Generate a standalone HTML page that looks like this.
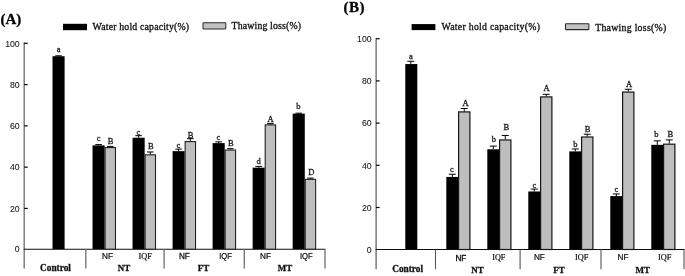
<!DOCTYPE html>
<html lang="en">
<head>
<meta charset="utf-8">
<title>Water hold capacity and thawing loss</title>
<style>
html,body{margin:0;padding:0;background:#fff;}
body{width:685px;height:276px;overflow:hidden;}
svg{display:block;}
svg text{stroke:#111;stroke-width:0.28px;paint-order:stroke fill;}
svg text.tk{stroke-width:0.1px;}
svg text.tk2{stroke-width:0.38px;}
svg text.cl{stroke-width:0.24px;}
svg text.tk3{stroke-width:0.3px;}
svg text.lg{stroke-width:0.32px;}
</style>
</head>
<body>
<svg width="685" height="276" viewBox="0 0 685 276">
<defs><filter id="soft" x="0" y="0" width="685" height="276" filterUnits="userSpaceOnUse"><feGaussianBlur stdDeviation="0.4"/></filter></defs>
<rect width="685" height="276" fill="#fff"/>
<g filter="url(#soft)">
<rect width="685" height="276" fill="#fff"/>
<line x1="24.2" y1="42.3" x2="24.2" y2="268.6" stroke="#757575" stroke-width="1.4"/>
<line x1="23.7" y1="249.2" x2="325.5" y2="249.2" stroke="#111" stroke-width="1.1"/>
<text x="19.7" y="252.4" class="tk" font-family='"Liberation Sans", "DejaVu Sans", sans-serif' font-size="8.7" text-anchor="end" fill="#1a1a1a">0</text>
<line x1="24.2" y1="208.42" x2="27.7" y2="208.42" stroke="#000" stroke-width="1.2"/>
<text x="19.7" y="211.62" class="tk" font-family='"Liberation Sans", "DejaVu Sans", sans-serif' font-size="8.7" text-anchor="end" fill="#1a1a1a">20</text>
<line x1="24.2" y1="167.14" x2="27.7" y2="167.14" stroke="#000" stroke-width="1.2"/>
<text x="19.7" y="170.34" class="tk" font-family='"Liberation Sans", "DejaVu Sans", sans-serif' font-size="8.7" text-anchor="end" fill="#1a1a1a">40</text>
<line x1="24.2" y1="125.86" x2="27.7" y2="125.86" stroke="#000" stroke-width="1.2"/>
<text x="19.7" y="129.06" class="tk" font-family='"Liberation Sans", "DejaVu Sans", sans-serif' font-size="8.7" text-anchor="end" fill="#1a1a1a">60</text>
<line x1="24.2" y1="84.58" x2="27.7" y2="84.58" stroke="#000" stroke-width="1.2"/>
<text x="19.7" y="87.78" class="tk" font-family='"Liberation Sans", "DejaVu Sans", sans-serif' font-size="8.7" text-anchor="end" fill="#1a1a1a">80</text>
<line x1="24.2" y1="43.3" x2="27.7" y2="43.3" stroke="#000" stroke-width="1.2"/>
<text x="19.7" y="46.5" class="tk" font-family='"Liberation Sans", "DejaVu Sans", sans-serif' font-size="8.7" text-anchor="end" fill="#1a1a1a">100</text>
<line x1="85.8" y1="249.2" x2="85.8" y2="268.6" stroke="#787878" stroke-width="1.4"/>
<line x1="164.1" y1="249.2" x2="164.1" y2="268.6" stroke="#787878" stroke-width="1.4"/>
<line x1="244.3" y1="249.2" x2="244.3" y2="268.6" stroke="#787878" stroke-width="1.4"/>
<line x1="325" y1="249.2" x2="325" y2="268.6" stroke="#787878" stroke-width="1.4"/>
<rect x="52.5" y="56.22" width="12.1" height="192.98" fill="#000"/>
<path d="M58.55 56.22V55.8M55.25 55.8H61.85" stroke="#000" stroke-width="1" fill="none"/>
<text x="58.55" y="51.6" font-family='"Liberation Serif", "DejaVu Serif", serif' font-size="8.5" text-anchor="middle" fill="#111">a</text>
<rect x="92.53" y="145.38" width="12.1" height="103.82" fill="#000"/>
<path d="M98.58 145.38V144.56M95.28 144.56H101.88" stroke="#000" stroke-width="1" fill="none"/>
<text x="98.58" y="140.96" font-family='"Liberation Serif", "DejaVu Serif", serif' font-size="8.5" text-anchor="middle" fill="#111">c</text>
<rect x="105.08" y="147.58" width="10.4" height="101.62" fill="#bebebe" stroke="#222" stroke-width="1.1"/>
<path d="M110.28 147.03V146.41M106.98 146.41H113.58" stroke="#000" stroke-width="1" fill="none"/>
<text x="110.48" y="143.81" font-family='"Liberation Serif", "DejaVu Serif", serif' font-size="8.5" text-anchor="middle" fill="#111">B</text>
<rect x="132.56" y="137.74" width="12.1" height="111.46" fill="#000"/>
<path d="M138.61 137.74V135.68M135.31 135.68H141.91" stroke="#000" stroke-width="1" fill="none"/>
<text x="138.31" y="135.28" font-family='"Liberation Serif", "DejaVu Serif", serif' font-size="8.5" text-anchor="middle" fill="#111">c</text>
<rect x="145.11" y="154.81" width="10.4" height="94.39" fill="#bebebe" stroke="#222" stroke-width="1.1"/>
<path d="M150.31 154.26V151.99M147.01 151.99H153.61" stroke="#000" stroke-width="1" fill="none"/>
<text x="150.81" y="148.99" font-family='"Liberation Serif", "DejaVu Serif", serif' font-size="8.5" text-anchor="middle" fill="#111">B</text>
<rect x="172.59" y="151.16" width="12.1" height="98.04" fill="#000"/>
<path d="M178.64 151.16V149.1M175.34 149.1H181.94" stroke="#000" stroke-width="1" fill="none"/>
<text x="178.44" y="147.5" font-family='"Liberation Serif", "DejaVu Serif", serif' font-size="8.5" text-anchor="middle" fill="#111">c</text>
<rect x="185.14" y="141.6" width="10.4" height="107.6" fill="#bebebe" stroke="#222" stroke-width="1.1"/>
<path d="M190.34 141.05V138.67M187.04 138.67H193.64" stroke="#000" stroke-width="1" fill="none"/>
<text x="190.54" y="138.37" font-family='"Liberation Serif", "DejaVu Serif", serif' font-size="8.5" text-anchor="middle" fill="#111">B</text>
<rect x="212.62" y="143.11" width="12.1" height="106.09" fill="#000"/>
<path d="M218.67 143.11V141.87M215.37 141.87H221.97" stroke="#000" stroke-width="1" fill="none"/>
<text x="218.27" y="140.37" font-family='"Liberation Serif", "DejaVu Serif", serif' font-size="8.5" text-anchor="middle" fill="#111">c</text>
<rect x="225.17" y="150.06" width="10.4" height="99.14" fill="#bebebe" stroke="#222" stroke-width="1.1"/>
<path d="M230.37 149.51V148.68M227.07 148.68H233.67" stroke="#000" stroke-width="1" fill="none"/>
<text x="230.87" y="146.18" font-family='"Liberation Serif", "DejaVu Serif", serif' font-size="8.5" text-anchor="middle" fill="#111">B</text>
<rect x="252.65" y="167.67" width="12.1" height="81.53" fill="#000"/>
<path d="M258.7 167.67V166.43M255.4 166.43H262" stroke="#000" stroke-width="1" fill="none"/>
<text x="258.5" y="163.53" font-family='"Liberation Serif", "DejaVu Serif", serif' font-size="8.5" text-anchor="middle" fill="#111">d</text>
<rect x="265.2" y="124.88" width="10.4" height="124.32" fill="#bebebe" stroke="#222" stroke-width="1.1"/>
<path d="M270.4 124.33V123.61M267.1 123.61H273.7" stroke="#000" stroke-width="1" fill="none"/>
<text x="270.6" y="121.81" font-family='"Liberation Serif", "DejaVu Serif", serif' font-size="8.5" text-anchor="middle" fill="#111">A</text>
<rect x="292.68" y="113.6" width="12.1" height="135.6" fill="#000"/>
<path d="M298.73 113.6V113.18M295.43 113.18H302.03" stroke="#000" stroke-width="1" fill="none"/>
<text x="298.33" y="109.18" font-family='"Liberation Serif", "DejaVu Serif", serif' font-size="8.5" text-anchor="middle" fill="#111">b</text>
<rect x="305.23" y="179.37" width="10.4" height="69.83" fill="#bebebe" stroke="#222" stroke-width="1.1"/>
<path d="M310.43 178.82V178.1M307.13 178.1H313.73" stroke="#000" stroke-width="1" fill="none"/>
<text x="311.23" y="175.3" font-family='"Liberation Serif", "DejaVu Serif", serif' font-size="8.5" text-anchor="middle" fill="#111">D</text>
<text x="55.5" y="270.6" font-family='"Liberation Serif", "DejaVu Serif", serif' font-size="9.3" font-weight="bold" text-anchor="middle" fill="#111">Control</text>
<text transform="translate(107.5 259.1) scale(0.93 1)" class="cl" font-family='"Liberation Sans", "DejaVu Sans", sans-serif' font-size="8.8" font-weight="normal" text-anchor="middle" fill="#111">NF</text>
<text x="145.2" y="259.1" class="cl" font-family='"Liberation Serif", "DejaVu Serif", serif' font-size="8.3" font-weight="normal" text-anchor="middle" fill="#111">IQF</text>
<text x="123.9" y="270.7" font-family='"Liberation Serif", "DejaVu Serif", serif' font-size="9" font-weight="bold" text-anchor="middle" fill="#111">NT</text>
<text transform="translate(184.4 259.1) scale(0.93 1)" class="tk3" font-family='"Liberation Sans", "DejaVu Sans", sans-serif' font-size="8.8" font-weight="normal" text-anchor="middle" fill="#111">NF</text>
<text transform="translate(225.5 259.1) scale(0.93 1)" class="cl" font-family='"Liberation Sans", "DejaVu Sans", sans-serif' font-size="8.2" font-weight="normal" text-anchor="middle" fill="#111">IQF</text>
<text x="203.4" y="270.7" font-family='"Liberation Serif", "DejaVu Serif", serif' font-size="9" font-weight="bold" text-anchor="middle" fill="#111">FT</text>
<text transform="translate(265.5 259.1) scale(0.93 1)" class="cl" font-family='"Liberation Sans", "DejaVu Sans", sans-serif' font-size="8.8" font-weight="normal" text-anchor="middle" fill="#111">NF</text>
<text transform="translate(306.3 259.1) scale(0.93 1)" class="cl" font-family='"Liberation Sans", "DejaVu Sans", sans-serif' font-size="8.2" font-weight="normal" text-anchor="middle" fill="#111">IQF</text>
<text x="285" y="270.7" font-family='"Liberation Serif", "DejaVu Serif", serif' font-size="9" font-weight="bold" text-anchor="middle" fill="#111">MT</text>
<rect x="63" y="23.8" width="24" height="6.4" fill="#000"/>
<text x="92.6" y="30.2" font-family='"Liberation Serif", "DejaVu Serif", serif' font-size="9.8" class="lg" fill="#111" textLength="96.5" lengthAdjust="spacing">Water hold capacity(%)</text>
<rect x="203" y="22.8" width="22.8" height="6.1" rx="0.6" fill="#c2c2c2" stroke="#2a2a2a" stroke-width="1.05"/>
<text x="231.6" y="28.9" font-family='"Liberation Serif", "DejaVu Serif", serif' font-size="9.8" class="lg" fill="#111" textLength="69.4" lengthAdjust="spacing">Thawing loss(%)</text>
<text x="0.4" y="23.8" font-family='"Liberation Serif", "DejaVu Serif", serif' font-size="15" letter-spacing="0" font-weight="bold" fill="#000">(A)</text>
<line x1="376.1" y1="38" x2="376.1" y2="269.3" stroke="#4a4a4a" stroke-width="1.1"/>
<line x1="375.6" y1="249.5" x2="684.5" y2="249.5" stroke="#111" stroke-width="1.1"/>
<text x="371.6" y="252.7" class="tk" font-family='"Liberation Sans", "DejaVu Sans", sans-serif' font-size="8.7" text-anchor="end" fill="#1a1a1a">0</text>
<line x1="376.1" y1="207.5" x2="379.6" y2="207.5" stroke="#000" stroke-width="1.2"/>
<text x="371.6" y="210.7" class="tk" font-family='"Liberation Sans", "DejaVu Sans", sans-serif' font-size="8.7" text-anchor="end" fill="#1a1a1a">20</text>
<line x1="376.1" y1="165.3" x2="379.6" y2="165.3" stroke="#000" stroke-width="1.2"/>
<text x="371.6" y="168.5" class="tk" font-family='"Liberation Sans", "DejaVu Sans", sans-serif' font-size="8.7" text-anchor="end" fill="#1a1a1a">40</text>
<line x1="376.1" y1="123.1" x2="379.6" y2="123.1" stroke="#000" stroke-width="1.2"/>
<text x="371.6" y="126.3" class="tk" font-family='"Liberation Sans", "DejaVu Sans", sans-serif' font-size="8.7" text-anchor="end" fill="#1a1a1a">60</text>
<line x1="376.1" y1="80.9" x2="379.6" y2="80.9" stroke="#000" stroke-width="1.2"/>
<text x="371.6" y="84.1" class="tk" font-family='"Liberation Sans", "DejaVu Sans", sans-serif' font-size="8.7" text-anchor="end" fill="#1a1a1a">80</text>
<line x1="376.1" y1="38.7" x2="379.6" y2="38.7" stroke="#000" stroke-width="1.2"/>
<text x="371.6" y="41.9" class="tk" font-family='"Liberation Sans", "DejaVu Sans", sans-serif' font-size="8.7" text-anchor="end" fill="#1a1a1a">100</text>
<line x1="435.5" y1="249.5" x2="435.5" y2="269.3" stroke="#555" stroke-width="1.1"/>
<line x1="520.1" y1="249.5" x2="520.1" y2="269.3" stroke="#555" stroke-width="1.1"/>
<line x1="601" y1="249.5" x2="601" y2="269.3" stroke="#555" stroke-width="1.1"/>
<line x1="684" y1="249.5" x2="684" y2="269.3" stroke="#555" stroke-width="1.1"/>
<rect x="405.3" y="64.03" width="12" height="185.47" fill="#000"/>
<path d="M410.8 64.03V61.29M407.3 61.29H414.3" stroke="#000" stroke-width="1" fill="none"/>
<text x="410.8" y="59.19" font-family='"Liberation Serif", "DejaVu Serif", serif' font-size="8.5" text-anchor="middle" fill="#111">a</text>
<rect x="446.3" y="176.92" width="12" height="72.58" fill="#000"/>
<path d="M452.3 176.92V174.22M448.8 174.22H455.8" stroke="#000" stroke-width="1" fill="none"/>
<text x="452" y="171.52" font-family='"Liberation Serif", "DejaVu Serif", serif' font-size="8.5" text-anchor="middle" fill="#111">c</text>
<rect x="458.6" y="111.9" width="11.3" height="137.6" fill="#bebebe" stroke="#151515" stroke-width="1.2"/>
<path d="M464.25 111.3V108.49M460.75 108.49H467.75" stroke="#000" stroke-width="1" fill="none"/>
<text x="465.45" y="105.59" font-family='"Liberation Serif", "DejaVu Serif", serif' font-size="8.5" text-anchor="middle" fill="#111">A</text>
<rect x="487.3" y="149.28" width="12" height="100.22" fill="#000"/>
<path d="M493.3 149.28V146.11M489.8 146.11H496.8" stroke="#000" stroke-width="1" fill="none"/>
<text x="493.8" y="141.91" font-family='"Liberation Serif", "DejaVu Serif", serif' font-size="8.5" text-anchor="middle" fill="#111">b</text>
<rect x="499.6" y="139.96" width="11.3" height="109.54" fill="#bebebe" stroke="#151515" stroke-width="1.2"/>
<path d="M505.25 139.36V135.45M501.75 135.45H508.75" stroke="#000" stroke-width="1" fill="none"/>
<text x="506.35" y="130.05" font-family='"Liberation Serif", "DejaVu Serif", serif' font-size="8.5" text-anchor="middle" fill="#111">B</text>
<rect x="528.3" y="191.47" width="12" height="58.03" fill="#000"/>
<path d="M534.3 191.47V189.07M530.8 189.07H537.8" stroke="#000" stroke-width="1" fill="none"/>
<text x="534.3" y="187.57" font-family='"Liberation Serif", "DejaVu Serif", serif' font-size="8.5" text-anchor="middle" fill="#111">c</text>
<rect x="540.6" y="96.91" width="11.3" height="152.59" fill="#bebebe" stroke="#151515" stroke-width="1.2"/>
<path d="M546.25 96.31V94.31M542.75 94.31H549.75" stroke="#000" stroke-width="1" fill="none"/>
<text x="546.45" y="90.71" font-family='"Liberation Serif", "DejaVu Serif", serif' font-size="8.5" text-anchor="middle" fill="#111">A</text>
<rect x="569.3" y="151.38" width="12" height="98.12" fill="#000"/>
<path d="M575.3 151.38V148.98M571.8 148.98H578.8" stroke="#000" stroke-width="1" fill="none"/>
<text x="575.4" y="147.18" font-family='"Liberation Serif", "DejaVu Serif", serif' font-size="8.5" text-anchor="middle" fill="#111">b</text>
<rect x="581.6" y="137" width="11.3" height="112.5" fill="#bebebe" stroke="#151515" stroke-width="1.2"/>
<path d="M587.25 136.4V134.21M583.75 134.21H590.75" stroke="#000" stroke-width="1" fill="none"/>
<text x="587.65" y="131.81" font-family='"Liberation Serif", "DejaVu Serif", serif' font-size="8.5" text-anchor="middle" fill="#111">B</text>
<rect x="610.3" y="196.12" width="12" height="53.38" fill="#000"/>
<path d="M616.3 196.12V193.92M612.8 193.92H619.8" stroke="#000" stroke-width="1" fill="none"/>
<text x="616.4" y="191.52" font-family='"Liberation Serif", "DejaVu Serif", serif' font-size="8.5" text-anchor="middle" fill="#111">c</text>
<rect x="622.6" y="92.06" width="11.3" height="157.44" fill="#bebebe" stroke="#151515" stroke-width="1.2"/>
<path d="M628.25 91.46V89.25M624.75 89.25H631.75" stroke="#000" stroke-width="1" fill="none"/>
<text x="628.95" y="86.95" font-family='"Liberation Serif", "DejaVu Serif", serif' font-size="8.5" text-anchor="middle" fill="#111">A</text>
<rect x="651.3" y="144.84" width="12" height="104.66" fill="#000"/>
<path d="M657.3 144.84V140.84M653.8 140.84H660.8" stroke="#000" stroke-width="1" fill="none"/>
<text x="656.4" y="137.24" font-family='"Liberation Serif", "DejaVu Serif", serif' font-size="8.5" text-anchor="middle" fill="#111">b</text>
<rect x="663.6" y="144.18" width="11.3" height="105.32" fill="#bebebe" stroke="#151515" stroke-width="1.2"/>
<path d="M669.25 143.58V139.89M665.75 139.89H672.75" stroke="#000" stroke-width="1" fill="none"/>
<text x="670.35" y="136.99" font-family='"Liberation Serif", "DejaVu Serif", serif' font-size="8.5" text-anchor="middle" fill="#111">B</text>
<text x="407.6" y="271.8" font-family='"Liberation Serif", "DejaVu Serif", serif' font-size="9.3" font-weight="bold" text-anchor="middle" fill="#111">Control</text>
<text transform="translate(460.9 261.2) scale(0.93 1)" class="tk2" font-family='"Liberation Sans", "DejaVu Sans", sans-serif' font-size="8.8" font-weight="normal" text-anchor="middle" fill="#111">NF</text>
<text x="498.8" y="259.9" class="cl" font-family='"Liberation Serif", "DejaVu Serif", serif' font-size="8.2" font-weight="normal" text-anchor="middle" fill="#111">IQF</text>
<text x="477.4" y="272.6" font-family='"Liberation Serif", "DejaVu Serif", serif' font-size="9" font-weight="bold" text-anchor="middle" fill="#111">NT</text>
<text transform="translate(539.4 259.6) scale(0.93 1)" class="cl" font-family='"Liberation Sans", "DejaVu Sans", sans-serif' font-size="8.8" font-weight="normal" text-anchor="middle" fill="#111">NF</text>
<text x="581.7" y="259.6" class="cl" font-family='"Liberation Serif", "DejaVu Serif", serif' font-size="8.3" font-weight="normal" text-anchor="middle" fill="#111">IQF</text>
<text x="558.9" y="273" font-family='"Liberation Serif", "DejaVu Serif", serif' font-size="9" font-weight="bold" text-anchor="middle" fill="#111">FT</text>
<text transform="translate(623 259.6) scale(0.93 1)" class="cl" font-family='"Liberation Sans", "DejaVu Sans", sans-serif' font-size="8.8" font-weight="normal" text-anchor="middle" fill="#111">NF</text>
<text x="664.8" y="260.1" class="cl" font-family='"Liberation Serif", "DejaVu Serif", serif' font-size="8.3" font-weight="normal" text-anchor="middle" fill="#111">IQF</text>
<text x="642.7" y="273" font-family='"Liberation Serif", "DejaVu Serif", serif' font-size="9" font-weight="bold" text-anchor="middle" fill="#111">MT</text>
<rect x="411.6" y="24.1" width="23.8" height="6" fill="#000"/>
<text x="441.5" y="30.2" font-family='"Liberation Serif", "DejaVu Serif", serif' font-size="9.8" class="lg" fill="#111" textLength="98.5" lengthAdjust="spacing">Water hold capacity(%)</text>
<rect x="565.5" y="23.8" width="23.4" height="5.8" rx="0.6" fill="#c2c2c2" stroke="#2a2a2a" stroke-width="1.05"/>
<text x="595.2" y="30.5" font-family='"Liberation Serif", "DejaVu Serif", serif' font-size="9.8" class="lg" fill="#111" textLength="71" lengthAdjust="spacing">Thawing loss(%)</text>
<text x="343.5" y="12.2" font-family='"Liberation Serif", "DejaVu Serif", serif' font-size="15" letter-spacing="0.5" font-weight="bold" fill="#000">(B)</text>
</g>
</svg>
</body>
</html>
